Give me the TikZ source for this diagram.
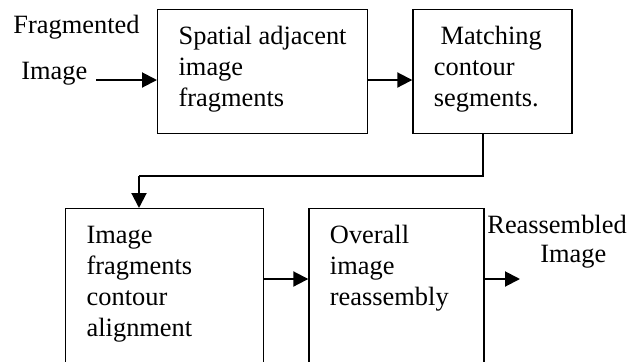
\documentclass[tikz,border=0pt]{standalone}
\usepackage{fontspec}
\setmainfont{Liberation Serif}
\usepackage{tikz}
\usetikzlibrary{arrows.meta, positioning}

\newcommand{\stagetext}[3]{\parbox[t][#2][t]{#1}{\raggedright\strut #3}}

\begin{document}
\begin{tikzpicture}[
  x=0.5pt, y=-0.5pt,
  stage/.style={draw, line width=0.65pt, inner xsep=10.5pt, inner ysep=6.7pt,
    font=\fontsize{13.2}{15.4}\selectfont},
  txt/.style={inner sep=0pt, anchor=base west, font=\fontsize{13.2}{15.4}\selectfont},
  flow/.style={-{Triangle[length=7.5pt, width=7.5pt]}, line width=1pt},
  link/.style={line width=0.65pt},
  node distance=22pt
]
\useasboundingbox (0,0) rectangle (639,361);
\clip (0,0) rectangle (639,361);

\node[stage, anchor=north west] (spatial) at (157,9)
  {\stagetext{84pt}{48.6pt}{Spatial~adjacent\\image\\fragments}};
\node[stage, right=of spatial] (matching)
  {\stagetext{58.5pt}{48.6pt}{~Matching\\contour\\segments.}};
\node[stage, anchor=north west] (align) at (65,208)
  {\stagetext{78pt}{110pt}{Image\\fragments\\contour\\alignment}};
\node[stage, right=of align] (overall)
  {\stagetext{66.5pt}{110pt}{Overall\\image\\reassembly}};

\node[txt] (srctop) at (13,33) {Fragmented};
\node[txt] (src) at (21,79) {Image};
\node[txt] (dsttop) at (487,233) {Reassembled};
\node[txt] (dst) at (540,262) {Image};

\coordinate (in) at (96,80);
\coordinate (out) at (520,279);
\coordinate (turn) at (483,176);
\coordinate (drop) at (139,176);

\draw[flow] (in) -- (in -| spatial.west);
\draw[flow] (in -| spatial.east) -- (in -| matching.west);
\draw[link] (turn |- matching.south) -- (turn) -- (drop);
\draw[flow] (drop) -- (drop |- align.north);
\draw[flow] (out -| align.east) -- (out -| overall.west);
\draw[flow] (out -| overall.east) -- (out);
\end{tikzpicture}
\end{document}
